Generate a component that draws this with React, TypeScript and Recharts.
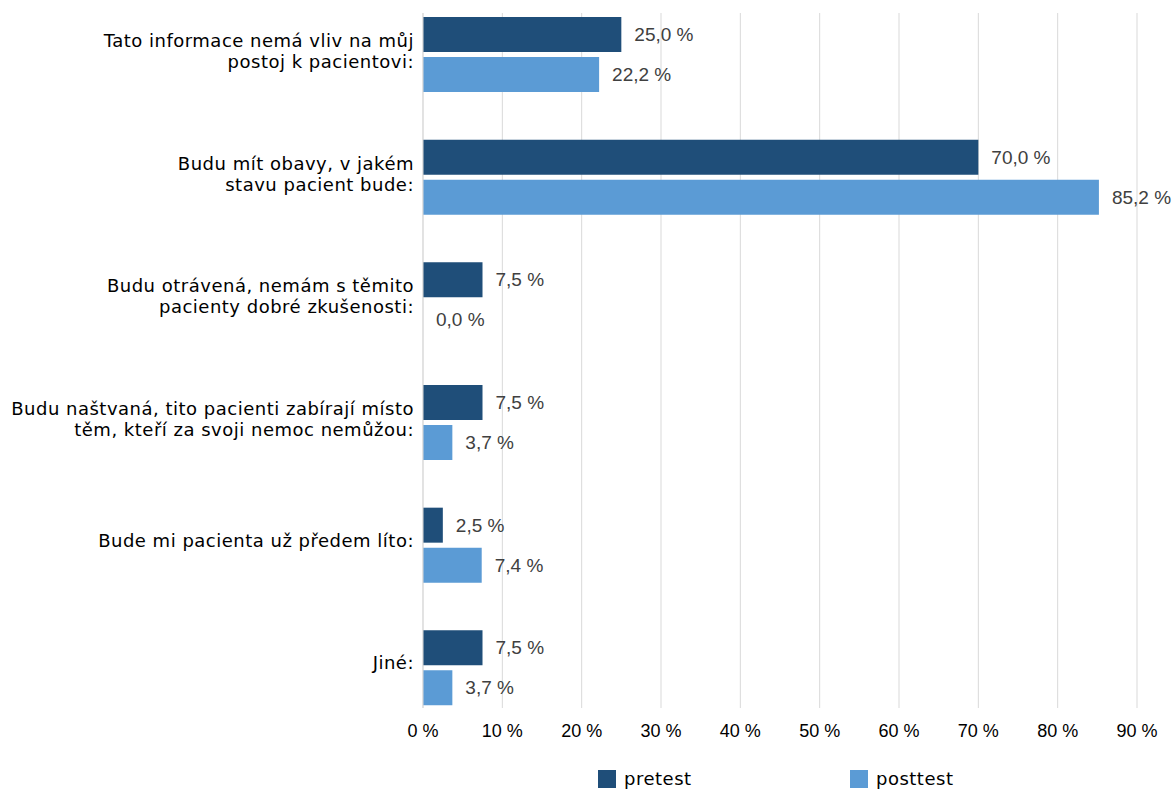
import { BarChart, Bar, XAxis, YAxis, CartesianGrid, Legend, LabelList } from 'recharts';

const categories = [
  'Tato informace nemá vliv na můj\npostoj k pacientovi:',
  'Budu mít obavy, v jakém\nstavu pacient bude:',
  'Budu otrávená, nemám s těmito\npacienty dobré zkušenosti:',
  'Budu naštvaná, tito pacienti zabírají místo\ntěm, kteří za svoji nemoc nemůžou:',
  'Bude mi pacienta už předem líto:',
  'Jiné:',
];
const pretest = [25.0, 70.0, 7.5, 7.5, 2.5, 7.5];
const posttest = [22.2, 85.2, 0.0, 3.7, 7.4, 3.7];
const xTicks = [0, 10, 20, 30, 40, 50, 60, 70, 80, 90];

const seriesNames = { pretest: 'pretest', posttest: 'posttest' };
const colors = { pretest: '#1f4e79', posttest: '#5b9bd5' };

const data = categories.map((name, i) => ({
  name,
  pretest: pretest[i],
  posttest: posttest[i],
}));

const pct = (v: number) => `${Number(v).toFixed(1).replace('.', ',')} %`;

function CategoryTick({ x, y, payload }: any) {
  const lines = String(payload.value).split('\n');
  const start = lines.length === 1 ? 1.5 : -7.5;
  return (
    <text
      x={x}
      y={y}
      textAnchor="end"
      fontFamily="DejaVu Sans"
      fontSize={18}
      letterSpacing={0.5}
      fill="#000"
    >
      {lines.map((l, i) => (
        <tspan key={i} x={x} y={y + start + i * 21}>
          {l}
        </tspan>
      ))}
    </text>
  );
}

// draws the value label even when the bar has zero length
function ValueLabel({ x, y, width, height, value }: any) {
  return (
    <text
      x={Number(x) + Number(width || 0) + 13}
      y={Number(y) + Number(height) / 2}
      dominantBaseline="central"
      fill="#404040"
      fontFamily="Liberation Sans"
      fontSize={19}
    >
      {pct(value)}
    </text>
  );
}

function LegendBox() {
  const items = [
    { key: 'pretest', label: seriesNames.pretest, color: colors.pretest },
    { key: 'posttest', label: seriesNames.posttest, color: colors.posttest },
  ];
  return (
    <div style={{ height: 36, display: 'flex', paddingLeft: 598, boxSizing: 'border-box' }}>
      {items.map((it) => (
        <div
          key={it.key}
          style={{ width: 252, display: 'flex', alignItems: 'flex-start', paddingTop: 17 }}
        >
          <span style={{ width: 18, height: 18, background: it.color, display: 'inline-block' }} />
          <span
            style={{
              marginLeft: 8,
              fontFamily: 'DejaVu Sans',
              fontSize: 18,
              lineHeight: '18px',
              letterSpacing: 0.5,
              color: '#000',
            }}
          >
            {it.label}
          </span>
        </div>
      ))}
    </div>
  );
}

export default function App() {
  return (
    <div style={{ position: 'absolute', left: 0, top: 0, width: 1173, height: 789, background: '#fff', overflow: 'hidden' }}>
      <BarChart
        width={1173}
        height={789}
        data={data}
        layout="vertical"
        margin={{ top: 13, right: 36, left: 0, bottom: 0 }}
        barSize={35}
        barGap={5}
      >
        <CartesianGrid horizontal={false} stroke="#d9d9d9" />
        <XAxis
          type="number"
          domain={[0, 90]}
          ticks={xTicks}
          tickFormatter={(v) => `${v} %`}
          axisLine={false}
          tickLine={false}
          tickSize={0}
          tickMargin={16}
          height={45}
          tick={{ fontFamily: 'Liberation Sans', fontSize: 18, fill: '#000' }}
        />
        <YAxis
          type="category"
          dataKey="name"
          width={423}
          axisLine={{ stroke: '#d9d9d9' }}
          tickLine={false}
          tickSize={0}
          tickMargin={9}
          padding={{ top: -20, bottom: -21 }}
          tick={<CategoryTick />}
          interval={0}
        />
        <Legend verticalAlign="bottom" content={<LegendBox />} wrapperStyle={{ left: 0, width: 1173 }} />
        <Bar dataKey="pretest" name={seriesNames.pretest} fill={colors.pretest} isAnimationActive={false}>
          <LabelList dataKey="pretest" content={<ValueLabel />} />
        </Bar>
        <Bar
          dataKey="posttest"
          name={seriesNames.posttest}
          fill={colors.posttest}
          minPointSize={0.01}
          isAnimationActive={false}
        >
          <LabelList dataKey="posttest" content={<ValueLabel />} />
        </Bar>
      </BarChart>
    </div>
  );
}
